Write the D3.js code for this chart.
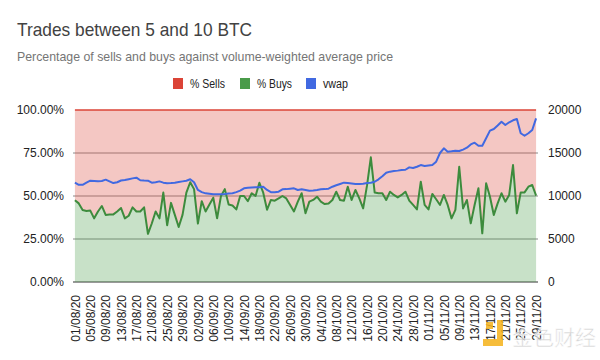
<!DOCTYPE html>
<html>
<head>
<meta charset="utf-8">
<script src="https://cdn.jsdelivr.net/npm/d3@7"></script>
<style>
  html, body { margin: 0; padding: 0; background: #fff; }
  svg { display: block; font-family: Arial, "Liberation Sans", sans-serif; }
</style>
</head>
<body>
<svg id="chart" width="600" height="360"></svg>
<script>
// ---- data ----
const startDay = new Date(2020, 7, 1);
const categories = d3.timeDay.range(startDay, new Date(2020, 10, 30)).map(d3.timeFormat("%d/%m/%y"));

const buysPct = [
  47.5, 45.7, 41.9, 41.3, 41.5, 37, 41, 44.2, 39, 39.3,
  39.3, 41, 43, 37, 38.5, 43.4, 41, 41, 43.4, 28,
  34, 41, 37, 52, 33, 46, 39, 32, 39, 52,
  58, 54, 34, 47, 41, 45, 49, 37, 50, 54,
  45, 44.5, 42.2, 50, 50, 47, 51.6, 50, 57.7, 51.9,
  42, 47.7, 47.3, 48.6, 50, 48.6, 44.8, 41, 46.7, 51.6,
  40, 46.7, 47.7, 49.6, 46.7, 45.3, 45.7, 47.7, 52.5, 47.7,
  47.3, 55.4, 47.7, 53.5, 48.6, 42.8, 56, 72.5, 52, 51.6,
  51.6, 47.7, 52.5, 50.6, 49.2, 50.6, 52.5, 47.3, 44.8, 42.2,
  58.3, 44.8, 42.2, 51.2, 48.1, 44.8, 50.6, 44.8, 37, 41.9,
  67, 42.8, 47.7, 34.1, 44.8, 54.5, 28.3, 57.4, 49.6, 39,
  45.7, 51.6, 46.7, 50.6, 68, 39.9, 52.1, 52.1, 55.4, 56.4,
  50.2
];

const vwap = [
  11550, 11300, 11300, 11550, 11780, 11750, 11720, 11750, 11900, 11700,
  11500, 11600, 11800, 11850, 11950, 12050, 12130, 11830, 11800, 11780,
  11550, 11600, 11700, 11550, 11480, 11500, 11550, 11630, 11700, 11780,
  11940, 11600, 10700, 10450, 10310, 10250, 10200, 10200, 10200, 10230,
  10300, 10330, 10450, 10620, 10890, 10950, 10980, 11010, 11010, 11080,
  10700, 10450, 10430, 10500, 10780, 10800, 10850, 10890, 10700, 10780,
  10700, 10620, 10650, 10700, 10780, 10800, 10850, 11080, 11250, 11400,
  11550, 11500, 11450, 11400, 11400, 11420, 11500, 11550, 11660, 11940,
  12300, 12700, 12830, 12900, 12950, 13020, 13050, 13330, 13250, 13400,
  13600, 13500, 13550, 13600, 13990, 15000, 15540, 15150, 15200, 15270,
  15230, 15400, 15620, 16000, 16200, 15850, 15850, 16710, 17600, 17790,
  18200, 18640, 18260, 18570, 18800, 18950, 17300, 17010, 17300, 17670,
  19030
];

const leftTicks = [0, 25, 50, 75, 100];
const rightTicks = [0, 5000, 10000, 15000, 20000];
const xTickLabels = [
  "01/08/20","05/08/20","09/08/20","13/08/20","17/08/20","21/08/20","25/08/20","29/08/20",
  "02/09/20","06/09/20","10/09/20","14/09/20","18/09/20","22/09/20","26/09/20","30/09/20",
  "04/10/20","08/10/20","12/10/20","16/10/20","20/10/20","24/10/20","28/10/20",
  "01/11/20","05/11/20","09/11/20","13/11/20","17/11/20","21/11/20","25/11/20","29/11/20"
];
const seriesNames = ["% Sells", "% Buys", "vwap"];
const colors = { sells: "#db4437", buys: "#4a9b4a", buysLine: "#3d8b3d", vwap: "#4169e1" };

// ---- layout ----
const svg = d3.select("#chart");
const L = 73, R = 538, T = 110, B = 282;

svg.append("rect").attr("width", 600).attr("height", 360).attr("fill", "#fff");

const x = d3.scalePoint().domain(categories).range([L, R]).padding(0.5);
const yL = d3.scaleLinear().domain([0, 100]).range([B, T]);
const yR = d3.scaleLinear().domain([0, 20000]).range([B, T]);

// title
svg.append("text").attr("x", 17).attr("y", 36).attr("font-size", 19).attr("fill", "#424242")
  .attr("textLength", 235).attr("lengthAdjust", "spacingAndGlyphs")
  .text("Trades between 5 and 10 BTC");
svg.append("text").attr("x", 17).attr("y", 61).attr("font-size", 13.5).attr("fill", "#757575")
  .attr("textLength", 376).attr("lengthAdjust", "spacingAndGlyphs")
  .text("Percentage of sells and buys against volume-weighted average price");

// legend
const legendItems = [
  { name: seriesNames[0], color: colors.sells, x: 173, w: 35 },
  { name: seriesNames[1], color: colors.buys, x: 240, w: 35 },
  { name: seriesNames[2], color: colors.vwap, x: 306, w: 25 }
];
const lg = svg.append("g");
legendItems.forEach(d => {
  lg.append("rect").attr("x", d.x).attr("y", 78).attr("width", 10).attr("height", 11).attr("fill", d.color);
  lg.append("text").attr("x", d.x + 17).attr("y", 88).attr("font-size", 12).attr("fill", "#222")
    .attr("textLength", d.w).attr("lengthAdjust", "spacingAndGlyphs").text(d.name);
});

// gridlines
svg.append("g").selectAll("line").data(leftTicks.filter(t => t > 0 && t < 100)).join("line")
  .attr("x1", L).attr("x2", R).attr("y1", d => yL(d)).attr("y2", d => yL(d))
  .attr("stroke", "#8a8a8a").attr("stroke-width", 1);
svg.append("line").attr("x1", L).attr("x2", R).attr("y1", yL(0)).attr("y2", yL(0))
  .attr("stroke", "#333").attr("stroke-width", 1.2);

// stacked areas
const idx = d3.range(categories.length);
const areaBuys = d3.area().x(i => x(categories[i])).y0(yL(0)).y1(i => yL(buysPct[i]));
const areaSells = d3.area().x(i => x(categories[i])).y0(i => yL(buysPct[i])).y1(yL(100));
svg.append("path").datum(idx).attr("d", areaBuys).attr("fill", colors.buys).attr("fill-opacity", 0.3);
svg.append("path").datum(idx).attr("d", areaSells).attr("fill", colors.sells).attr("fill-opacity", 0.3);

// lines
const lineSells = d3.line().x(i => x(categories[i])).y(() => yL(100));
svg.append("path").datum(idx).attr("d", lineSells).attr("fill", "none")
  .attr("stroke", colors.sells).attr("stroke-width", 1.5);
const lineBuys = d3.line().x(i => x(categories[i])).y(i => yL(buysPct[i]));
svg.append("path").datum(idx).attr("d", lineBuys).attr("fill", "none")
  .attr("stroke", colors.buysLine).attr("stroke-width", 2).attr("stroke-linejoin", "round");
const lineVwap = d3.line().x(i => x(categories[i])).y(i => yR(vwap[i]));
svg.append("path").datum(idx).attr("d", lineVwap).attr("fill", "none")
  .attr("stroke", colors.vwap).attr("stroke-width", 2).attr("stroke-linejoin", "round");

// axes
const fmtPct = d => d3.format(".2f")(d) + "%";
const axL = svg.append("g").attr("transform", `translate(${L - 6},0)`)
  .call(d3.axisLeft(yL).tickValues(leftTicks).tickFormat(fmtPct).tickSize(0));
const axR = svg.append("g").attr("transform", `translate(${R + 7},0)`)
  .call(d3.axisRight(yR).tickValues(rightTicks).tickFormat(d3.format("d")).tickSize(0));
const axB = svg.append("g").attr("transform", `translate(0,${B + 13})`)
  .call(d3.axisBottom(x).tickValues(xTickLabels).tickSize(0));
[axL, axR, axB].forEach(a => {
  a.select(".domain").remove();
  a.selectAll("text").attr("font-size", 12).attr("fill", "#222")
    .attr("font-family", "Arial, 'Liberation Sans', sans-serif");
});
axB.selectAll("text")
  .attr("transform", "rotate(-90)")
  .attr("text-anchor", "end").attr("x", 0).attr("y", 0).attr("dy", "0.35em")
  .attr("dx", 0);

// watermark
const wm = svg.append("g").attr("opacity", 0.85);
wm.append("rect").attr("x", 486).attr("y", 322).attr("width", 7).attr("height", 7).attr("fill", "#f5b21a");
wm.append("path").attr("d", "M497,320 h6 v26 h-20 v-7 h14 z").attr("fill", "#f5b21a");
wm.append("text").attr("x", 512).attr("y", 345).attr("font-size", 21)
  .attr("font-family", "'Noto Sans CJK SC', sans-serif").attr("fill", "#d0d0d0")
  .attr("stroke", "#fff").attr("stroke-width", 0.6).text("金色财经");
</script>
</body>
</html>
